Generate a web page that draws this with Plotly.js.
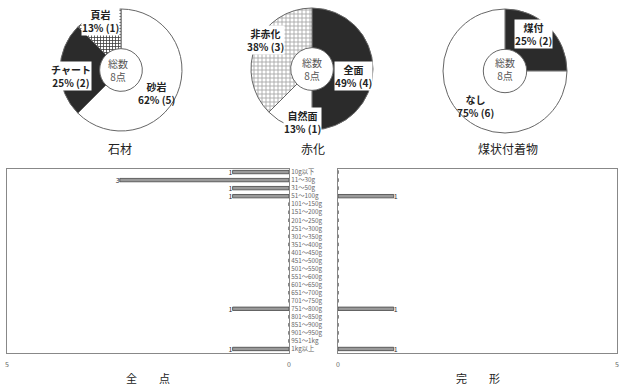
<!DOCTYPE html>
<html><head><meta charset="utf-8">
<script src="https://cdn.plot.ly/plotly-3.0.1.min.js"></script>
<style>html,body{margin:0;padding:0;background:#fff}#c{width:622px;height:385px}</style>
</head><body><div id="c"></div>
<script>
// ---- data ----
const stoneLabels = ['砂岩', 'チャート', '頁岩'];
const stoneValues = [5, 2, 1];
const stonePct = ['62%', '25%', '13%'];
const redLabels = ['全面', '自然面', '非赤化'];
const redValues = [4, 1, 3];
const redPct = ['49%', '13%', '38%'];
const sootLabels = ['煤付', 'なし'];
const sootValues = [2, 6];
const sootPct = ['25%', '75%'];
const weightCats = ['10g以下','11～30g','31～50g','51～100g','101～150g','151～200g','201～250g','251～300g','301～350g','351～400g','401～450g','451～500g','501～550g','551～600g','601～650g','651～700g','701～750g','751～800g','801～850g','851～900g','901～950g','951～1kg','1kg以上'];
const allCounts =      [1,3,1,1,0,0,0,0,0,0,0,0,0,0,0,0,0,1,0,0,0,0,1];
const completeCounts = [0,0,0,1,0,0,0,0,0,0,0,0,0,0,0,0,0,1,0,0,0,0,1];
const totalCount = 8;

// ---- layout helpers ----
const W = 622, H = 385;
const FONT = '"Noto Sans CJK JP", "Noto Sans", sans-serif';
const px = x => x / W, py = y => 1 - y / H;
function dom(cx, cy, r) { return {x: [px(cx - r), px(cx + r)], y: [py(cy + r), py(cy - r)]}; }

const pieBase = {type: 'pie', hole: 0.35, sort: false, direction: 'clockwise', rotation: 0,
  textinfo: 'none', hoverinfo: 'skip', showlegend: false};

const traces = [
  Object.assign({}, pieBase, {labels: stoneLabels, values: stoneValues, domain: dom(121, 70, 61),
    marker: {colors: ['#ffffff', '#2b2b2b', '#8c8c8c'], line: {color: '#666', width: 1},
      pattern: {shape: ['', '', '+'], fgcolor: '#3a3a3a', size: 3, solidity: 0.45}}}),
  Object.assign({}, pieBase, {labels: redLabels, values: redValues, domain: dom(312, 69, 61),
    marker: {colors: ['#2b2b2b', '#ffffff', '#cdcdcd'], line: {color: '#666', width: 1},
      pattern: {shape: ['', '', '+'], fgcolor: '#a8a8a8', size: 4, solidity: 0.4}}}),
  Object.assign({}, pieBase, {labels: sootLabels, values: sootValues, domain: dom(505, 71, 62),
    marker: {colors: ['#2b2b2b', '#ffffff'], line: {color: '#666', width: 1}}}),
  {type: 'bar', orientation: 'h', y: weightCats, x: allCounts, xaxis: 'x', yaxis: 'y', width: 0.42,
    text: allCounts.map(v => v > 0 ? String(v) : ''), textposition: 'outside', constraintext: 'none',
    cliponaxis: false, textfont: {size: 7, color: '#333', family: FONT},
    marker: {color: '#9a9a9a', line: {color: '#444', width: 0.8}}, hoverinfo: 'skip'},
  {type: 'bar', orientation: 'h', y: weightCats, x: completeCounts, xaxis: 'x2', yaxis: 'y2', width: 0.42,
    text: completeCounts.map(v => v > 0 ? String(v) : ''), textposition: 'outside', constraintext: 'none',
    cliponaxis: false, textfont: {size: 7, color: '#333', family: FONT},
    marker: {color: '#9a9a9a', line: {color: '#444', width: 0.8}}, hoverinfo: 'skip'}
];

function lbl(x, y, name, pct, n, bg) {
  return {x: px(x), y: py(y), xref: 'paper', yref: 'paper', showarrow: false,
    text: '<b>' + name + '</b><br><b>' + pct + ' (' + n + ')</b>',
    font: {size: 10, color: '#222', family: FONT}, bgcolor: bg || 'rgba(0,0,0,0)', borderpad: 0,
    align: 'center', xanchor: 'center', yanchor: 'middle'};
}
function plain(x, y, text, size, color) {
  return {x: px(x), y: py(y), xref: 'paper', yref: 'paper', showarrow: false, text: text,
    font: {size: size, color: color, family: FONT}, xanchor: 'center', yanchor: 'middle'};
}
const centerTxt = '総数<br>' + totalCount + '点';

const annotations = [
  lbl(101, 21, stoneLabels[2], stonePct[2], stoneValues[2], '#fff'),
  lbl(71, 76, stoneLabels[1], stonePct[1], stoneValues[1], '#fff'),
  lbl(157, 93, stoneLabels[0], stonePct[0], stoneValues[0]),
  lbl(265, 40, redLabels[2], redPct[2], redValues[2], '#fff'),
  lbl(353, 76, redLabels[0], redPct[0], redValues[0], '#fff'),
  lbl(302, 122, redLabels[1], redPct[1], redValues[1], '#fff'),
  lbl(533, 34, sootLabels[0], sootPct[0], sootValues[0], '#fff'),
  lbl(475, 106, sootLabels[1], sootPct[1], sootValues[1]),
  plain(118, 70, centerTxt, 10, '#555'),
  plain(312, 69, centerTxt, 10, '#555'),
  plain(505, 69, centerTxt, 10, '#555'),
  plain(120, 148, '石材', 12, '#222'),
  plain(313, 148, '赤化', 12, '#222'),
  plain(508, 148, '煤状付着物', 12, '#222'),
  plain(148, 378, '全　　点', 11, '#222'),
  plain(478, 378, '完　　形', 11, '#222')
];

const axFont = {size: 7, color: '#666', family: FONT};
const catFont = {size: 6.3, color: '#666', family: FONT};
const layout = {
  width: W, height: H, margin: {l: 0, r: 0, t: 0, b: 0}, paper_bgcolor: '#fff', plot_bgcolor: 'rgba(0,0,0,0)',
  showlegend: false, bargap: 0, font: {family: FONT},
  xaxis: {domain: [px(7), px(289)], range: [5, 0], tickvals: [0, 5], ticks: 'outside', ticklen: 5, tickcolor: 'rgba(0,0,0,0)',
    tickfont: axFont, showgrid: false, zeroline: false, showline: true, mirror: true, linecolor: '#888', linewidth: 1,
    anchor: 'y', fixedrange: true},
  yaxis: {domain: [py(353), py(169)], type: 'category', categoryarray: weightCats, range: [22.5, -0.38],
    side: 'right', anchor: 'x', tickfont: catFont, ticks: '', showgrid: false, zeroline: false,
    showline: true, mirror: true, linecolor: '#888', linewidth: 1, fixedrange: true},
  xaxis2: {domain: [px(338), px(617)], range: [0, 5], tickvals: [0, 5], ticks: 'outside', ticklen: 5, tickcolor: 'rgba(0,0,0,0)',
    tickfont: axFont, showgrid: false, zeroline: false, showline: true, mirror: true, linecolor: '#888', linewidth: 1,
    anchor: 'y2', fixedrange: true},
  yaxis2: {domain: [py(353), py(169)], type: 'category', categoryarray: weightCats, range: [22.5, -0.38],
    anchor: 'x2', showticklabels: false, ticks: '', showgrid: false, zeroline: false,
    showline: true, mirror: true, linecolor: '#888', linewidth: 1, fixedrange: true},
  annotations: annotations
};

Plotly.newPlot('c', traces, layout, {staticPlot: true, displayModeBar: false});
</script>
</body></html>
